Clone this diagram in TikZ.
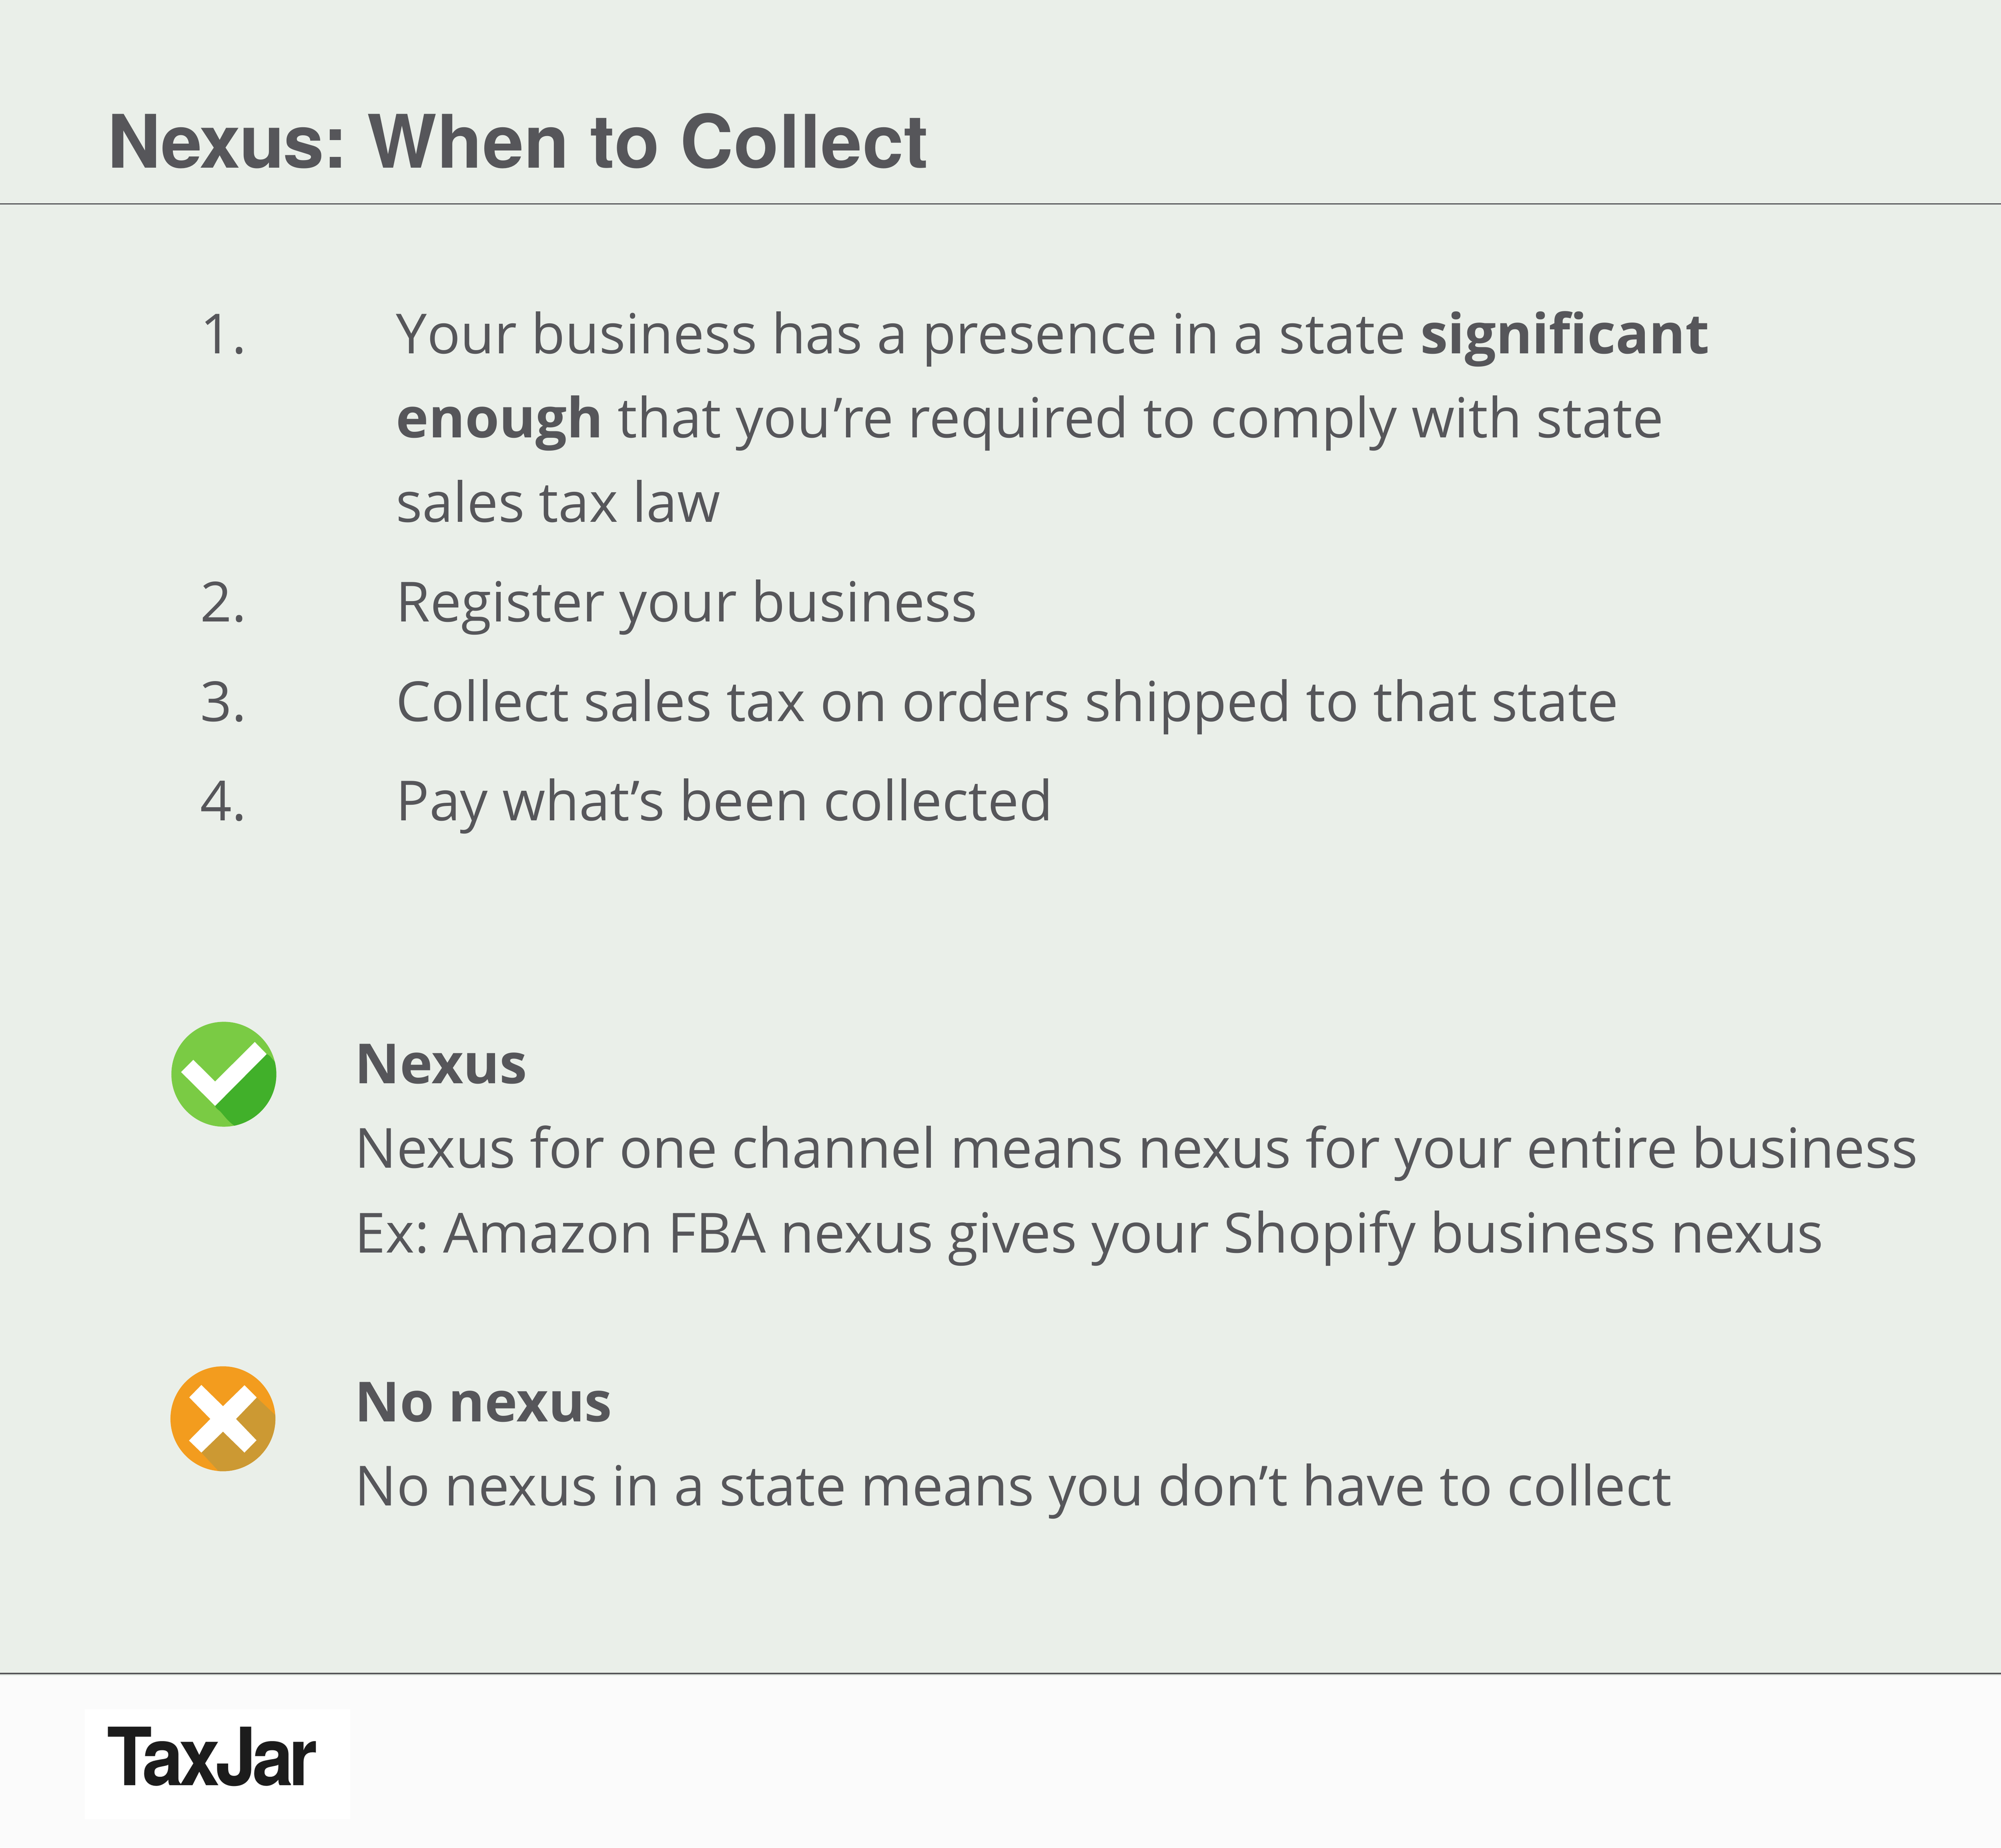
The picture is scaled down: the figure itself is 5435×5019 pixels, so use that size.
\documentclass[tikz,border=0pt]{standalone}
\usepackage{graphicx}
\usepackage{fontspec}
\setmainfont{Open Sans}
\newfontfamily\titlefont[LetterSpace=0.5]{TeX Gyre Heros}
\newfontfamily\titletight[LetterSpace=-1.6]{TeX Gyre Heros}
\newfontfamily\logofont[LetterSpace=-6]{TeX Gyre Heros}
\definecolor{bgc}{HTML}{EAEFE9}
\definecolor{footc}{HTML}{FBFBFB}
\definecolor{inkc}{HTML}{56565A}
\definecolor{rulec}{HTML}{56565A}
\definecolor{greenc}{HTML}{7ACB44}
\definecolor{greend}{HTML}{41B02A}
\definecolor{orangec}{HTML}{F39C1E}
\definecolor{oranged}{HTML}{CC9933}
\definecolor{logoc}{HTML}{1C1C1C}
\tikzset{
  x=0.01cm,y=-0.01cm,
  body/.style={anchor=base west,inner sep=0pt,outer sep=0pt,text=inkc,font=\fontsize{42.7}{56}\selectfont},
  headline/.style={anchor=base west,inner sep=0pt,outer sep=0pt,text=inkc,font=\bfseries\fontsize{57}{66}\selectfont},
  logotext/.style={anchor=base west,inner sep=0pt,outer sep=0pt,text=logoc,font=\logofont\bfseries\fontsize{62}{70}\selectfont},
  rulebar/.style={draw=rulec,line width=0.04cm}
}
\begin{document}
\begin{tikzpicture}
\useasboundingbox (0,0) rectangle (5435,5019);
\fill[bgc] (0,0) rectangle (5435,5019);
\fill[footc] (0,4552) rectangle (5435,5019);
\fill[white] (230,4643) rectangle (951,4941);
\coordinate (ruleAl) at (0,554); \coordinate (ruleAr) at (5435,554);
\coordinate (ruleBl) at (0,4546); \coordinate (ruleBr) at (5435,4546);
\draw[rulebar] (ruleAl) -- (ruleAr);
\draw[rulebar] (ruleBl) -- (ruleBr);
\node[headline] (title) at (292,456) {{\titletight Nexus:}\kern-1pt{\titlefont\ When to Collect}};
\node[body] (n1) at (544,960) {1.};
\node[body] (t1a) at (1076,960) {Y\kern0pt our business has a presence in a state \textbf{significant}};
\node[body] (t1b) at (1076,1189) {\textbf{enough} that you\kern2pt’re required to comply with state};
\node[body] (t1c) at (1076,1418) {sales tax law};
\node[body] (n2) at (544,1689) {2.};
\node[body] (t2) at (1076,1689) {Register your business};
\node[body] (n3) at (544,1959) {3.};
\node[body] (t3) at (1076,1959) {Collect sales tax on orders shipped to that state};
\node[body] (n4) at (544,2229) {4.};
\node[body] (t4) at (1076,2229) {Pay what’s been collected};
\node[body] (h1) at (964,2943) {\textbf{Nexus}};
\node[body] (l1) at (964,3172) {Nexus for one channel means nexus for your entire business};
\node[body] (l2) at (964,3403) {Ex:\kern-0.5pt\ Amazon FBA nexus gives your Shopify business nexus};
\node[body] (h2) at (964,3861) {\textbf{No nexus}};
\node[body] (l3) at (964,4090) {No nexus in a state means you don’t have to collect};
% check icon
\fill[greenc] (608,2918) circle[radius=142.5];
\begin{scope}
\clip (608,2918) circle[radius=142.5];
\fill[greend] (724.3,2863.3) .. controls (735,2867) and (738,2877) .. (748,2885) -- (800,3000) -- (660,3080) -- (635,3056.7) .. controls (615,3042) and (605,3025) .. (597,3018) .. controls (590,3012) and (586,3010) .. (584.3,3004) -- cycle;
\end{scope}
\fill[white] (491.7,2912) -- (525,2878.7) -- (584.3,2937.7) -- (692,2830.3) -- (724.3,2863.3) -- (584.3,3004) -- cycle;
% cross icon
\fill[orangec] (605.5,3853.8) circle[radius=142.5];
\begin{scope}
\clip (605.5,3853.8) circle[radius=142.5];
\fill[oranged] (697.3,3796) -- (747.3,3843.3) -- (800,3900) -- (700,4050) -- (592.7,3995) -- (547,3945.7) -- cycle;
\end{scope}
\fill[white] (547,3762) -- (605.7,3819.7) -- (664,3762.7) -- (697.3,3796) -- (641,3854.3) -- (696.7,3912.3) -- (664,3945.7) -- (605.7,3888.7) -- (547,3945.7) -- (513.3,3913) -- (571.3,3854.3) -- (514,3795.7) -- cycle;
\node[logotext] (logo) at (291,4850) {\scalebox{0.92}[1]{TaxJar}};
\end{tikzpicture}
\end{document}
